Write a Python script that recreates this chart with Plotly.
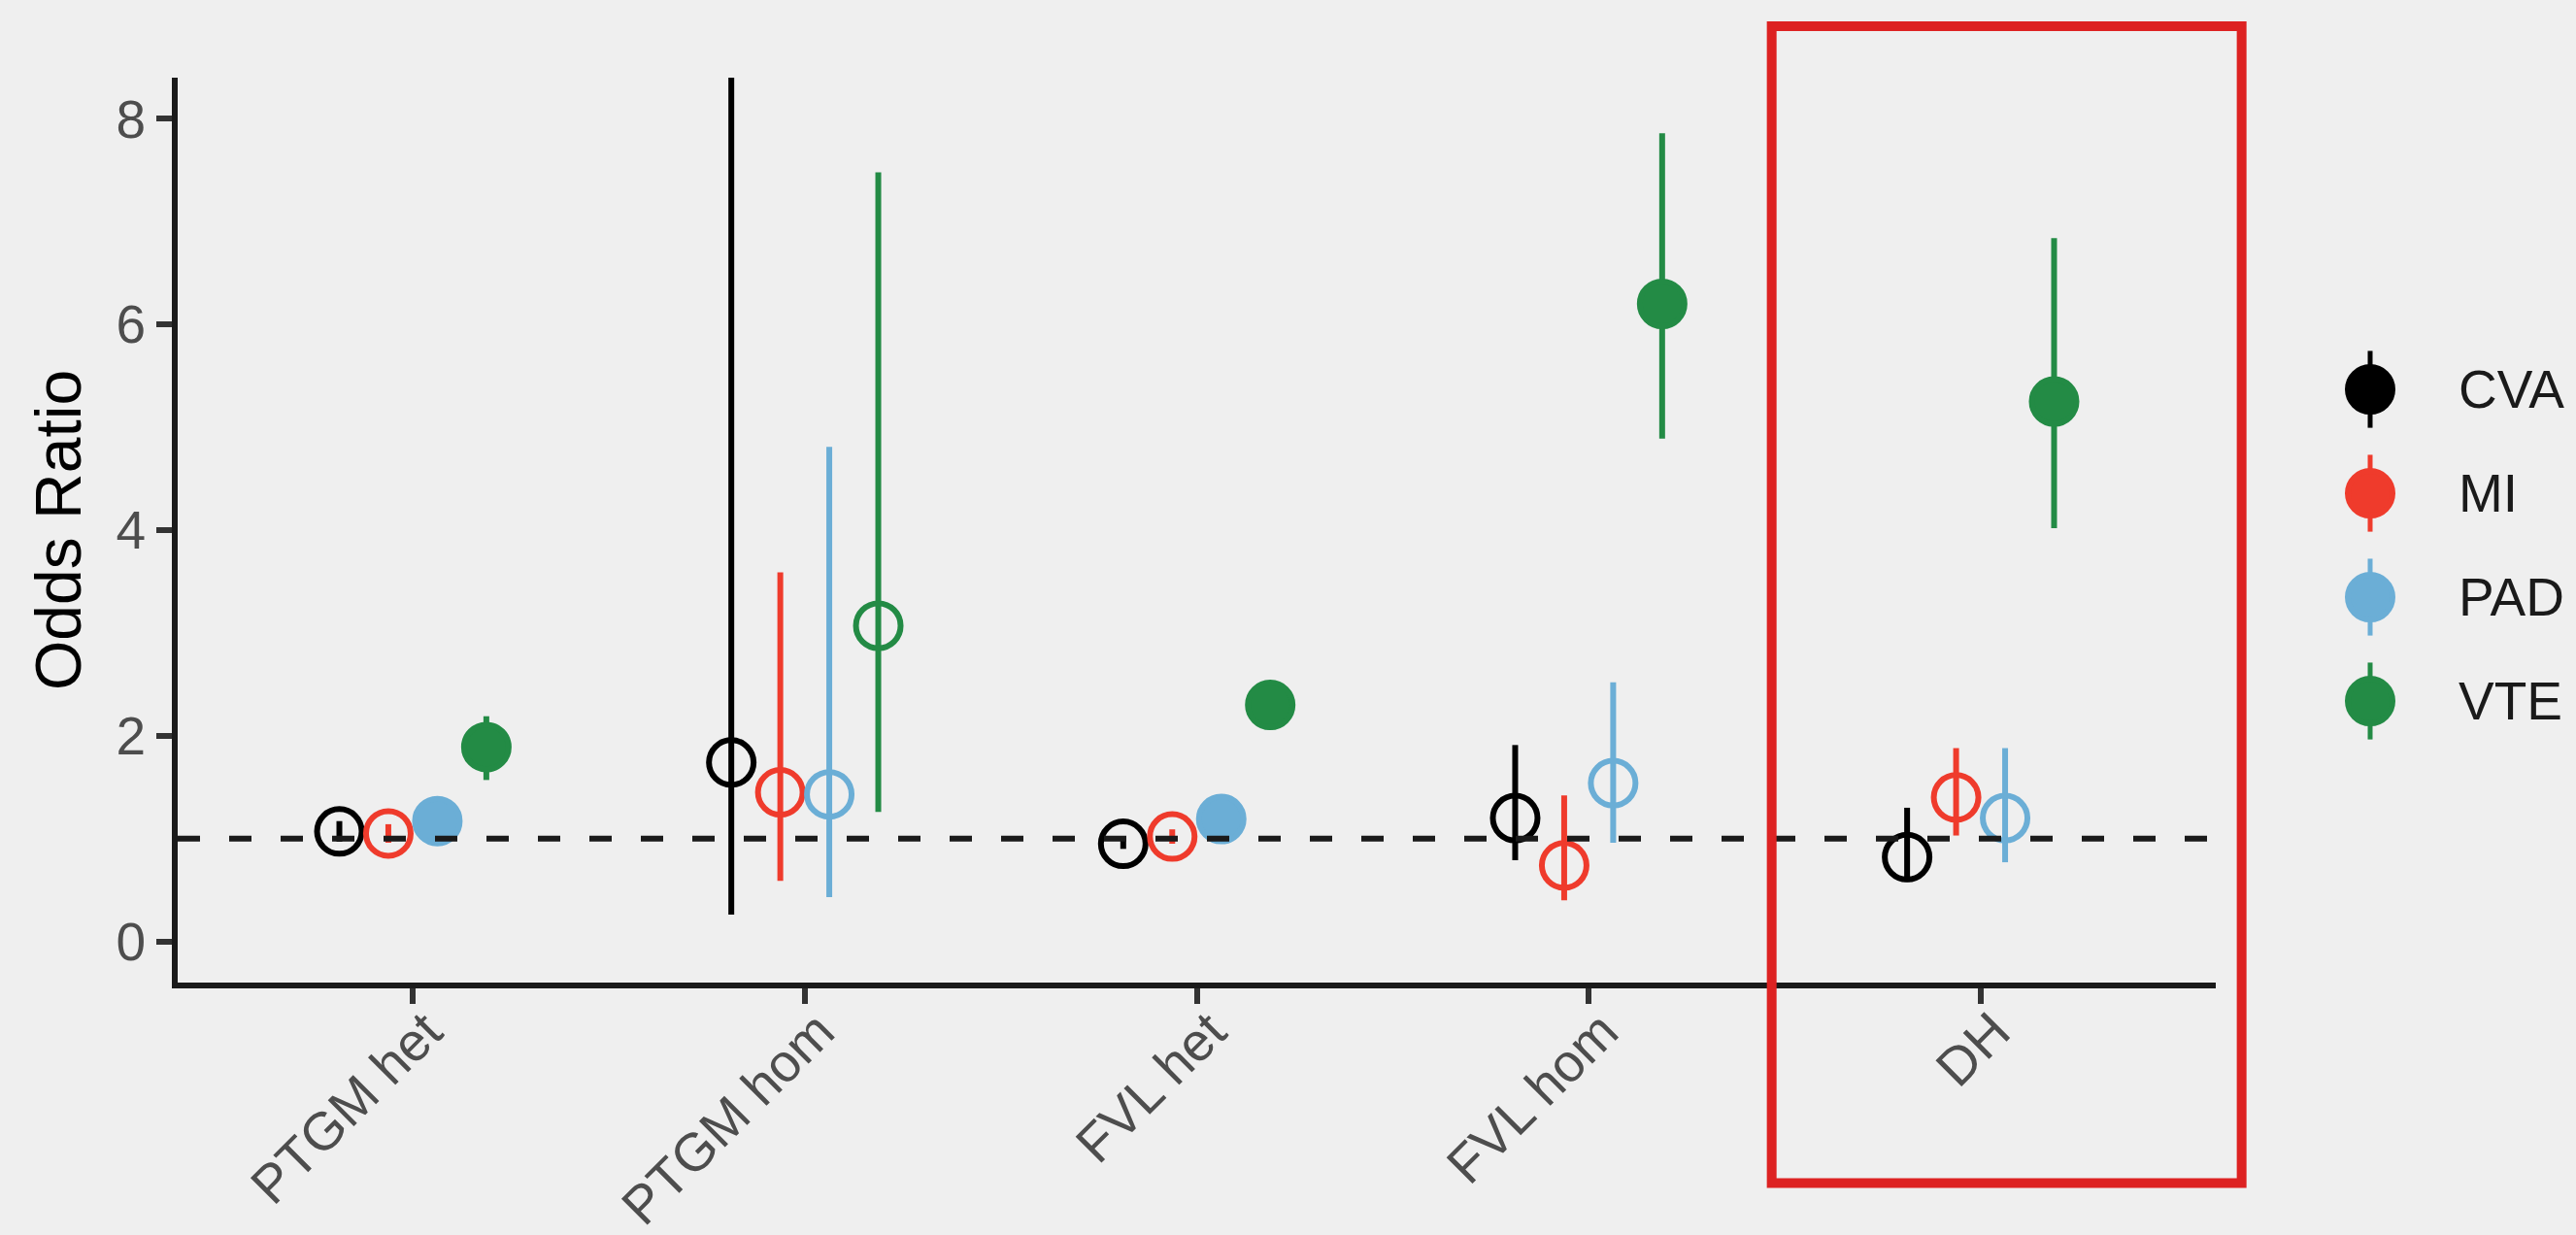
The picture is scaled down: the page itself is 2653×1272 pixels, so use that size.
import plotly.graph_objects as go

# ---- data -------------------------------------------------------------
categories = ["PTGM het", "PTGM hom", "FVL het", "FVL hom", "DH"]
groups = ["CVA", "MI", "PAD", "VTE"]
colors = ["#000000", "#EF3B2C", "#6BAED6", "#238B45"]

cva_or = [1.07, 1.74, 0.95, 1.20, 0.82]
cva_lo = [0.97, 0.26, 0.90, 0.79, 0.58]
cva_hi = [1.17, 8.40, 1.01, 1.91, 1.30]
cva_sig = [False, False, False, False, False]

mi_or = [1.05, 1.45, 1.02, 0.74, 1.40]
mi_lo = [0.96, 0.59, 0.95, 0.40, 1.03]
mi_hi = [1.14, 3.59, 1.09, 1.42, 1.88]
mi_sig = [False, False, False, False, False]

pad_or = [1.17, 1.43, 1.19, 1.54, 1.20]
pad_lo = [1.09, 0.43, 1.12, 0.96, 0.77]
pad_hi = [1.25, 4.81, 1.27, 2.52, 1.88]
pad_sig = [True, False, True, False, False]

vte_or = [1.89, 3.07, 2.30, 6.20, 5.25]
vte_lo = [1.57, 1.26, 2.06, 4.89, 4.02]
vte_hi = [2.19, 7.48, 2.52, 7.86, 6.84]
vte_sig = [True, False, True, True, True]

series = {
    "CVA": (cva_or, cva_lo, cva_hi, cva_sig),
    "MI": (mi_or, mi_lo, mi_hi, mi_sig),
    "PAD": (pad_or, pad_lo, pad_hi, pad_sig),
    "VTE": (vte_or, vte_lo, vte_hi, vte_sig),
}

y_ticks = [0, 2, 4, 6, 8]
reference_or = 1
highlight = "DH"

# ---- geometry / style --------------------------------------------------
W, H = 2653, 1272
ML, MR, MT, MB = 183, 40, 80, 260
panel_right = 2282
legend_left = 2400
plot_w = W - ML - MR

x_range = [0.4, len(categories) + 0.6]
y_range = [-0.4, 8.4]
dodge = 0.5
LW = 6
MSIZE = 46
BG = "#EFEFEF"
FONT = "Liberation Sans, Arial, sans-serif"

fig = go.Figure()

n = len(groups)
for gi, (name, col) in enumerate(zip(groups, colors)):
    est, lo, hi, sig = series[name]
    offset = (gi - (n - 1) / 2) * dodge / n
    xs = [i + 1 + offset for i in range(len(categories))]
    fig.add_trace(go.Scatter(
        x=xs, y=est, mode="markers", name=name, showlegend=False,
        marker=dict(
            symbol=["circle" if s else "circle-open" for s in sig],
            size=MSIZE, color=col,
            line=dict(color=col, width=LW),
        ),
        error_y=dict(type="data", symmetric=False,
                     array=[h - e for h, e in zip(hi, est)],
                     arrayminus=[e - l for e, l in zip(est, lo)],
                     width=0, thickness=LW, color=col),
        cliponaxis=True,
    ))

# key (point + stem glyphs) drawn on its own small axis pair right of the panel
for gi, col in enumerate(colors):
    fig.add_trace(go.Scatter(
        x=[41], y=[gi], mode="markers", showlegend=False,
        xaxis="x2", yaxis="y2", hoverinfo="skip",
        marker=dict(symbol="circle", size=MSIZE, color=col,
                    line=dict(color=col, width=LW)),
        error_y=dict(type="constant", value=0.37, width=0, thickness=5,
                     color=col),
    ))

annotations = []
for gi, name in enumerate(groups):
    annotations.append(dict(
        x=130, y=gi, xref="x2", yref="y2", text=name, showarrow=False,
        xanchor="left", yanchor="middle",
        font=dict(family=FONT, size=55, color="#1A1A1A"),
    ))

# dashed reference line at OR = 1
fig.add_hline(y=reference_or, line=dict(color="#1A1A1A", width=LW,
                                        dash="23px,30px"), layer="above")


def xfrac(v):
    return (v - x_range[0]) / (x_range[1] - x_range[0])


def yfrac(v):
    return (v - y_range[0]) / (y_range[1] - y_range[0])


# highlight box around the DH group
hx = categories.index(highlight) + 1
fig.add_shape(
    type="rect", xref="x domain", yref="y domain",
    x0=xfrac(hx - 0.533), x1=xfrac(hx + 0.666),
    y0=yfrac(-2.35), y1=yfrac(8.90),
    line=dict(color="#DD2222", width=10), fillcolor="rgba(0,0,0,0)",
    layer="above",
)

axis_common = dict(
    showline=True, linecolor="#1A1A1A", linewidth=LW,
    ticks="outside", ticklen=16, tickwidth=LW, tickcolor="#333333",
    showgrid=False, zeroline=False,
    tickfont=dict(family=FONT, size=55, color="#4D4D4D"),
)

fig.update_layout(
    width=W, height=H,
    margin=dict(l=ML, r=MR, t=MT, b=MB, autoexpand=False),
    paper_bgcolor=BG, plot_bgcolor=BG,
    showlegend=False,
    annotations=annotations,
    xaxis=dict(
        domain=[0, (panel_right - ML) / plot_w],
        range=x_range,
        tickmode="array",
        tickvals=list(range(1, len(categories) + 1)),
        ticktext=categories,
        tickangle=-45,
        ticklabelstandoff=-26,
        ticklabelshift=14,
        **axis_common,
    ),
    yaxis=dict(
        range=y_range,
        tickmode="array", tickvals=y_ticks,
        title=dict(text="Odds Ratio", standoff=16,
                   font=dict(family=FONT, size=66, color="#000000")),
        **axis_common,
    ),
    xaxis2=dict(domain=[(legend_left - ML) / plot_w, 1], range=[0, W - MR - legend_left],
                visible=False, anchor="y2", fixedrange=True),
    yaxis2=dict(domain=[0, 1], range=[5.71, -3.0], visible=False,
                anchor="x2", fixedrange=True),
)
fig.update_xaxes(tickfont=dict(family=FONT, size=53, color="#4D4D4D"),
                 selector=dict(anchor="y"))

fig.write_html("out.html")
